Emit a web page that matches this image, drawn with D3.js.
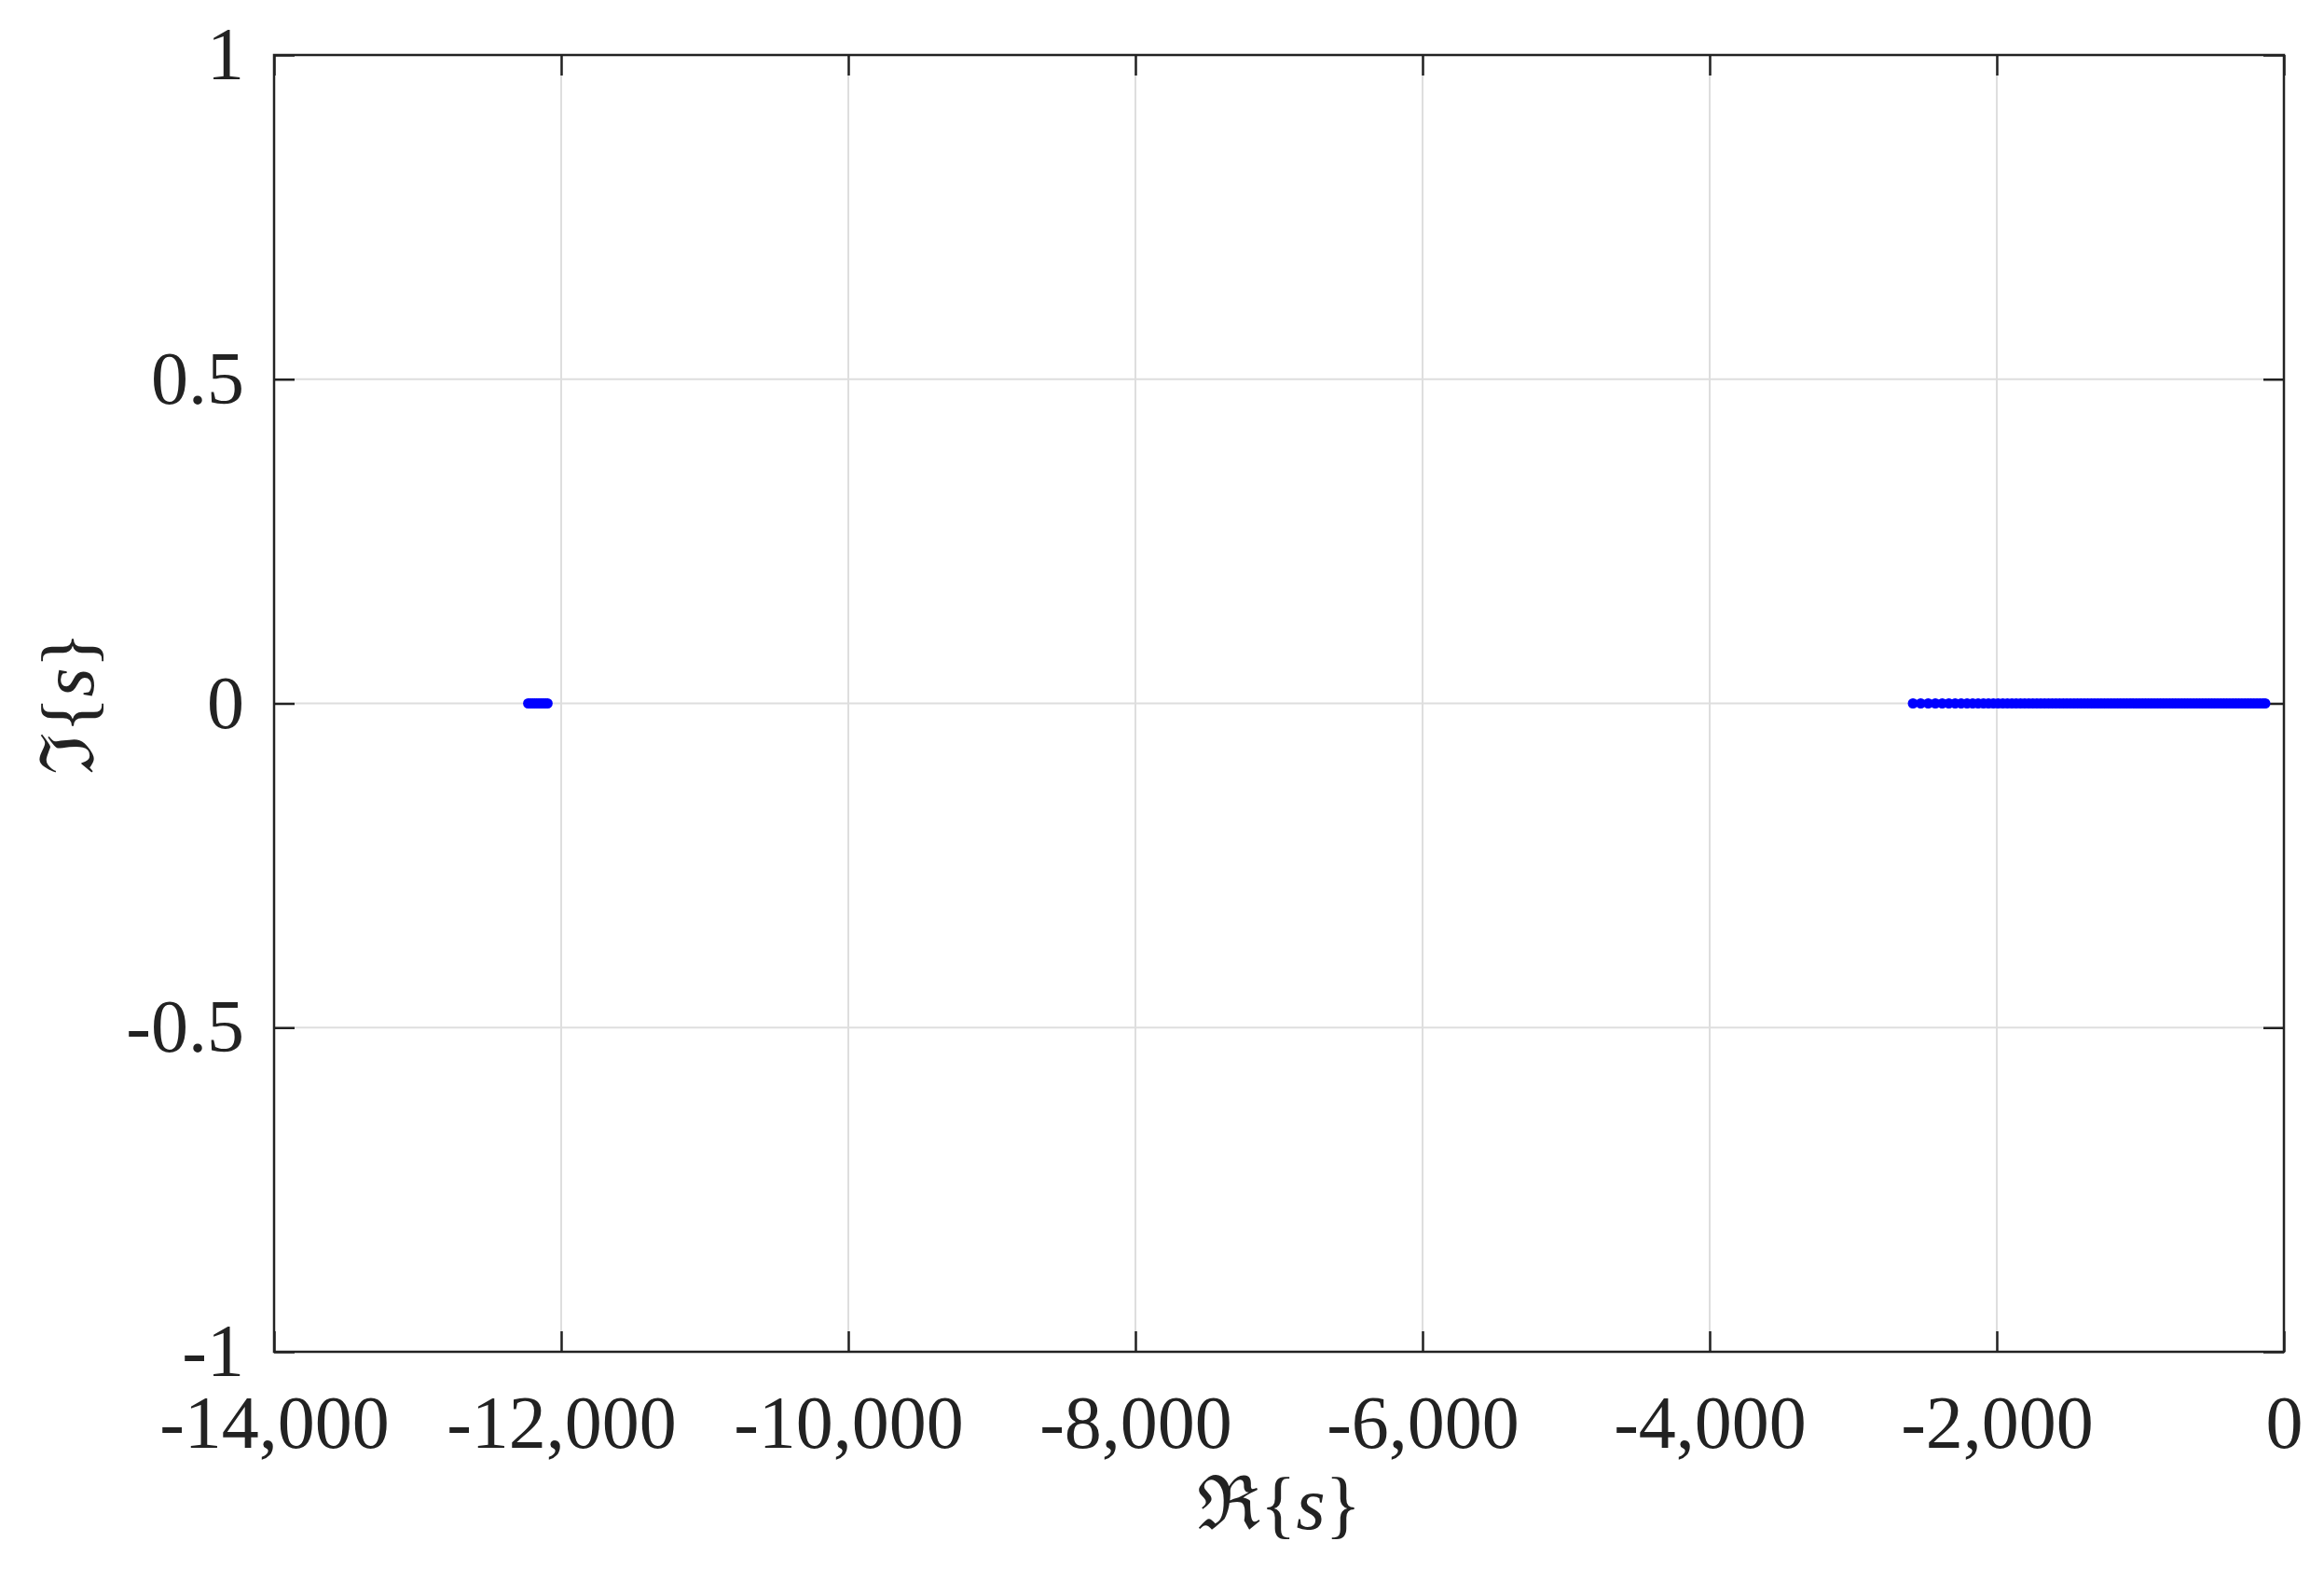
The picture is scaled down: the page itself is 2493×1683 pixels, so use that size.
<!DOCTYPE html>
<html><head><meta charset="utf-8">
<script src="https://cdn.jsdelivr.net/npm/d3@7"></script>
<style>body{margin:0;background:#fff}text{font-family:"Liberation Serif","DejaVu Serif",serif;fill:#222}</style>
</head><body>
<script>
var w = 2493, h = 1683;
var m = {left: 294, right: 43, top: 59, bottom: 233};

// Data: poles (real parts), imaginary parts all zero
var leftCluster = [-12230, -12215, -12200, -12185, -12170, -12155, -12140, -12125, -12110, -12095];
var rightCluster = [-2584, -2530, -2478, -2428, -2380, -2334, -2290, -2248, -2207, -2168,
  -2130, -2093, -2058, -2024, -1991, -1958, -1926, -1895, -1865, -1835,
  -1806, -1777, -1749, -1721, -1694, -1667, -1640, -1614, -1588, -1562,
  -1537, -1512, -1487, -1462, -1438, -1414, -1390, -1366, -1342, -1319,
  -1296, -1273, -1250, -1227, -1204, -1182, -1160, -1138, -1116, -1094,
  -1072, -1050, -1028, -1007, -986, -965, -944, -923, -902, -881,
  -860, -839, -818, -797, -776, -755, -734, -713, -692, -671,
  -650, -629, -608, -587, -566, -545, -524, -503, -482, -461,
  -440, -419, -398, -377, -356, -335, -314, -293, -272, -251,
  -230, -209, -188, -167, -146, -130];
var imagParts = [0];
var xTicks = [-14000, -12000, -10000, -8000, -6000, -4000, -2000, 0];
var yTicks = [-1, -0.5, 0, 0.5, 1];

var poles = leftCluster.concat(rightCluster).map(function(d) { return {re: d, im: imagParts[0]}; });

var svg = d3.select("body").append("svg").attr("width", w).attr("height", h);
var x = d3.scaleLinear().domain([-14000, 0]).range([m.left, w - m.right]);
var y = d3.scaleLinear().domain([-1, 1]).range([h - m.bottom, m.top]);

// grid
svg.selectAll("line.gx").data(xTicks).enter().append("line")
  .attr("x1", function(d) { return x(d); }).attr("x2", function(d) { return x(d); })
  .attr("y1", y(-1)).attr("y2", y(1)).attr("stroke", "#dedede").attr("stroke-width", 2);
svg.selectAll("line.gy").data(yTicks).enter().append("line")
  .attr("y1", function(d) { return y(d); }).attr("y2", function(d) { return y(d); })
  .attr("x1", x(-14000)).attr("x2", x(0)).attr("stroke", "#dedede").attr("stroke-width", 2);

var fmt = function(d) { return d === 0 ? "0" : d3.format(",")(d).replace("−", "-"); };
var tl = 22;
function styleAxis(g) {
  g.select(".domain").remove();
  g.selectAll(".tick line").attr("stroke", "#222").attr("stroke-width", 2.5);
  g.selectAll(".tick text").style("font-size", "80px");
}
svg.append("g").attr("transform", "translate(0," + y(-1) + ")")
  .call(d3.axisBottom(x).tickValues(xTicks).tickSize(-tl).tickPadding(46).tickFormat(fmt)).call(styleAxis);
svg.append("g").attr("transform", "translate(0," + y(1) + ")")
  .call(d3.axisTop(x).tickValues(xTicks).tickSize(-tl).tickFormat("")).call(styleAxis);
svg.append("g").attr("transform", "translate(" + x(-14000) + ",0)")
  .call(d3.axisLeft(y).tickValues(yTicks).tickSize(-tl).tickPadding(32).tickFormat(function(d){ return String(d).replace("−","-"); })).call(styleAxis);
svg.append("g").attr("transform", "translate(" + x(0) + ",0)")
  .call(d3.axisRight(y).tickValues(yTicks).tickSize(-tl).tickFormat("")).call(styleAxis);

svg.append("rect").attr("x", x(-14000)).attr("y", y(1)).attr("width", x(0) - x(-14000)).attr("height", y(-1) - y(1))
  .attr("fill", "none").attr("stroke", "#222").attr("stroke-width", 2.5);

// poles
svg.selectAll("circle").data(poles).enter().append("circle")
  .attr("cx", function(d) { return x(d.re); }).attr("cy", function(d) { return y(d.im); })
  .attr("r", 5.5).attr("fill", "#0000ff");

// labels
var xl = svg.append("text").attr("x", (x(-14000) + x(0)) / 2).attr("y", 1640).attr("text-anchor", "middle").style("font-size", "80px");
xl.append("tspan").text("ℜ{");
xl.append("tspan").style("font-style", "italic").text("s");
xl.append("tspan").text("}");
var yl = svg.append("text").attr("transform", "translate(100," + y(0) + ") rotate(-90)").attr("text-anchor", "middle").style("font-size", "80px");
yl.append("tspan").text("ℑ{");
yl.append("tspan").style("font-style", "italic").text("s");
yl.append("tspan").text("}");
</script>
</body></html>
